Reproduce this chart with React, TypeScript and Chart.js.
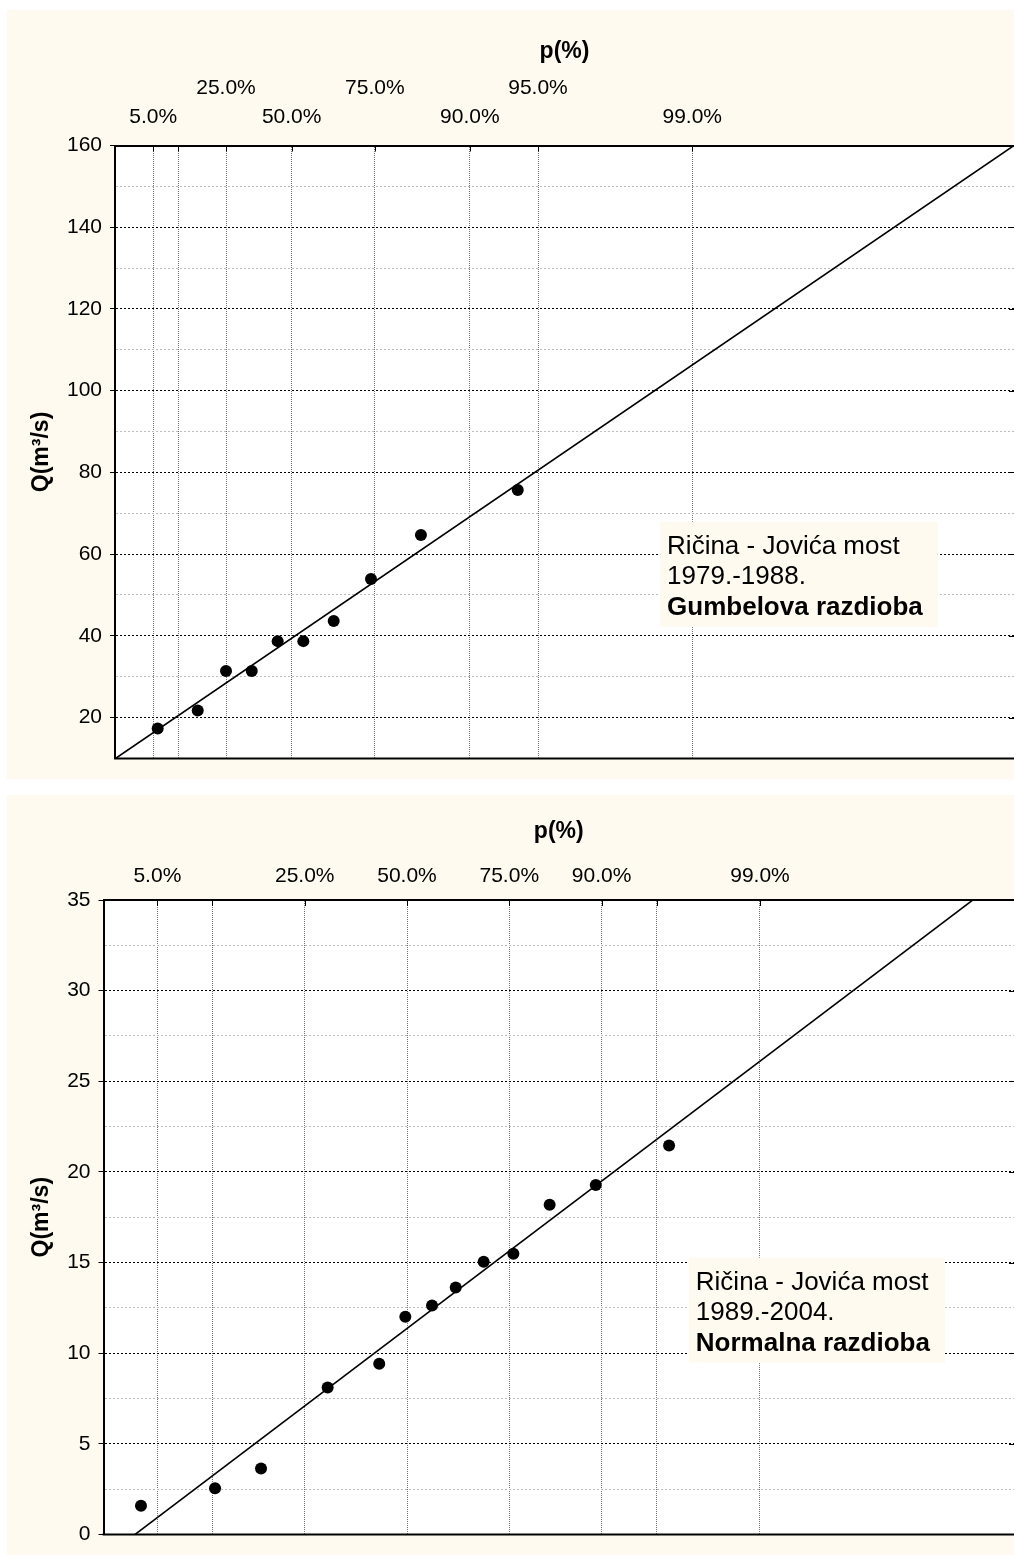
import React, { useEffect, useRef } from 'react';
import { Chart, registerables } from 'chart.js';

Chart.register(...registerables);

const FONT = '"Liberation Sans", Arial, Helvetica, sans-serif';
const CREAM = '#FEFAEF';

// ---------- Chart 1: Gumbel distribution (1979.-1988.) ----------
const gumbelX = [-1.049, -0.626, -0.327, -0.055, 0.219, 0.49, 0.811, 1.205, 1.733, 2.756];
const gumbelQ = [17.3, 21.7, 31.4, 31.4, 38.7, 38.7, 43.6, 53.9, 64.7, 75.7];
const gumbelLineX = [-1.5, 8.0];
const gumbelLineQ = [9.9, 160.0];
const gumbelTickPos = [-1.097, -0.834, -0.327, 0.367, 1.246, 2.25, 2.97, 4.6];
const gumbelTickLower = ['5.0%', '', '', '50.0%', '', '90.0%', '', '99.0%'];
const gumbelTickUpper = ['', '', '25.0%', '', '75.0%', '', '95.0%', ''];
const gumbelNote = ['Ričina - Jovića most', '1979.-1988.', 'Gumbelova razdioba'];

// ---------- Chart 2: Normal distribution (1989.-2004.) ----------
const normalX = [-1.753, -1.265, -0.962, -0.523, -0.183, -0.011, 0.165, 0.321, 0.505, 0.701, 0.94, 1.244, 1.727];
const normalQ = [1.58, 2.54, 3.63, 8.1, 9.42, 12.01, 12.63, 13.62, 15.04, 15.49, 18.19, 19.28, 21.45];
const normalLineX = [-2.0, 4.0];
const normalLineQ = [-1.32, 36.72];
const normalTickPos = [-1.645, -1.282, -0.674, 0, 0.674, 1.282, 1.645, 2.326];
const normalTickLabels = ['5.0%', '', '25.0%', '50.0%', '75.0%', '90.0%', '', '99.0%'];
const normalNote = ['Ričina - Jovića most', '1989.-2004.', 'Normalna razdioba'];

type Spec = {
  xs: number[];
  qs: number[];
  lineX: number[];
  lineQ: number[];
  tickPos: number[];
  lowerLabels: string[];
  upperLabels: string[] | null;
  xMin: number;
  xMax: number;
  yMin: number;
  yMax: number;
  yStep: number;
  yMajor: number;
  yAxisWidth: number;
  xHeight: number;
  xLabelPad: number;
  x2Height: number;
  x2LabelPad: number;
  titlePad: number;
  padBottom: number;
  note: string[];
  noteX: number;
  noteY: number;
};

const isMajor = (v: number, major: number) => {
  const r = Math.abs(v / major - Math.round(v / major));
  return r < 1e-6;
};

const framePlugin = {
  id: 'frame',
  beforeDraw(chart: any) {
    const { ctx, chartArea: a, width, height } = chart;
    ctx.save();
    ctx.fillStyle = CREAM;
    ctx.fillRect(0, 0, width, height);
    ctx.fillStyle = '#ffffff';
    ctx.fillRect(a.left, a.top, a.right - a.left, a.bottom - a.top);
    ctx.restore();
  },
  afterDatasetsDraw(chart: any, _args: any, opts: any) {
    const { ctx, scales } = chart;
    if (!opts || !opts.note) return;
    const x0 = scales.x.getPixelForValue(opts.noteX);
    const y0 = scales.y.getPixelForValue(opts.noteY);
    ctx.save();
    const fs = 26;
    let maxW = 0;
    opts.note.forEach((t: string, i: number) => {
      ctx.font = `${i === 2 ? 'bold ' : ''}${fs}px ${FONT}`;
      maxW = Math.max(maxW, ctx.measureText(t).width);
    });
    ctx.fillStyle = CREAM;
    ctx.fillRect(x0, y0, maxW + 22, 105);
    ctx.fillStyle = '#000';
    ctx.textBaseline = 'alphabetic';
    ctx.textAlign = 'left';
    const offs = [32, 62, 93];
    opts.note.forEach((t: string, i: number) => {
      ctx.font = `${i === 2 ? 'bold ' : ''}${fs}px ${FONT}`;
      ctx.fillText(t, x0 + 7, y0 + offs[i]);
    });
    ctx.restore();
  },
  afterDraw(chart: any, _args: any, opts: any) {
    const { ctx, chartArea: a, scales } = chart;
    ctx.save();
    ctx.strokeStyle = '#000';
    ctx.lineWidth = 2;
    ctx.beginPath();
    ctx.moveTo(a.left - 1, a.bottom);
    ctx.lineTo(a.right, a.bottom);
    ctx.stroke();
    ctx.lineWidth = 1;
    ctx.beginPath();
    scales.x.ticks.forEach((t: any) => {
      const px = Math.round(scales.x.getPixelForValue(t.value)) + 0.5;
      ctx.moveTo(px, a.top);
      ctx.lineTo(px, a.top + 6);
    });
    scales.y.ticks.forEach((t: any) => {
      if (!isMajor(t.value, opts.yMajor)) return;
      const py = Math.round(scales.y.getPixelForValue(t.value)) + 0.5;
      ctx.moveTo(a.right - 5, py);
      ctx.lineTo(a.right, py);
    });
    ctx.stroke();
    ctx.restore();
  },
};

function buildConfig(s: Spec): any {
  const tickFont = { family: FONT, size: 21 };
  const titleFont = { family: FONT, size: 23, weight: 'bold' };
  const scales: any = {
    x: {
      type: 'linear',
      axis: 'x',
      position: 'top',
      weight: 0,
      min: s.xMin,
      max: s.xMax,
      afterBuildTicks: (sc: any) => {
        sc.ticks = s.tickPos.map((v) => ({ value: v }));
      },
      afterFit: (sc: any) => {
        sc.height = s.xHeight;
      },
      ticks: {
        autoSkip: false,
        maxRotation: 0,
        minRotation: 0,
        padding: s.xLabelPad,
        color: '#000',
        font: tickFont,
        callback: (_v: any, i: number) => s.lowerLabels[i],
      },
      grid: { color: '#737373', lineWidth: 1, drawTicks: false, tickLength: 0 },
      border: { display: true, color: '#000', width: 2, dash: [1, 1] },
      title: s.upperLabels
        ? { display: false }
        : {
            display: true,
            text: 'p(%)',
            color: '#000',
            font: titleFont,
            padding: { top: s.titlePad, bottom: 0 },
          },
    },
    y: {
      type: 'linear',
      position: 'left',
      min: s.yMin,
      max: s.yMax,
      afterFit: (sc: any) => {
        sc.width = s.yAxisWidth;
      },
      ticks: {
        stepSize: s.yStep,
        autoSkip: false,
        padding: 8,
        color: '#000',
        font: tickFont,
        callback: (v: any) => (isMajor(Number(v), s.yMajor) ? String(v) : ''),
      },
      grid: {
        lineWidth: 1,
        color: (c: any) =>
          c.tick && isMajor(c.tick.value, s.yMajor) ? '#000000' : '#bdbdbd',
        tickColor: (c: any) =>
          c.tick && isMajor(c.tick.value, s.yMajor) ? '#000000' : 'rgba(0,0,0,0)',
        tickLength: 5,
        tickWidth: 1,
      },
      border: { display: true, color: '#000', width: 2, dash: [2, 2] },
      title: {
        display: true,
        text: 'Q(m³/s)',
        color: '#000',
        font: { family: FONT, size: 23, weight: 'bold' },
        padding: { top: 21, bottom: 0 },
      },
    },
  };
  if (s.upperLabels) {
    const upper = s.upperLabels;
    scales.x2 = {
      type: 'linear',
      axis: 'x',
      position: 'top',
      weight: 1,
      min: s.xMin,
      max: s.xMax,
      afterBuildTicks: (sc: any) => {
        sc.ticks = s.tickPos.map((v) => ({ value: v }));
      },
      afterFit: (sc: any) => {
        sc.height = s.x2Height;
      },
      ticks: {
        autoSkip: false,
        maxRotation: 0,
        minRotation: 0,
        padding: s.x2LabelPad,
        color: '#000',
        font: tickFont,
        callback: (_v: any, i: number) => upper[i],
      },
      grid: { display: false, drawTicks: false, tickLength: 0 },
      border: { display: false },
      title: {
        display: true,
        text: 'p(%)',
        color: '#000',
        font: titleFont,
        padding: { top: s.titlePad, bottom: 0 },
      },
    };
  }
  return {
    type: 'scatter',
    data: {
      datasets: [
        {
          data: s.xs.map((x, i) => ({ x, y: s.qs[i] })),
          xAxisID: 'x',
          yAxisID: 'y',
          pointRadius: 6,
          pointHoverRadius: 6,
          backgroundColor: '#000',
          borderColor: '#000',
          borderWidth: 0,
          showLine: false,
        },
        {
          data: s.lineX.map((x, i) => ({ x, y: s.lineQ[i] })),
          xAxisID: 'x',
          yAxisID: 'y',
          showLine: true,
          pointRadius: 0,
          borderColor: '#000',
          borderWidth: 1.6,
          fill: false,
        },
      ],
    },
    options: {
      animation: false,
      responsive: false,
      devicePixelRatio: 1,
      events: [],
      layout: { autoPadding: false, padding: { top: 0, left: 0, right: 0, bottom: s.padBottom } },
      plugins: {
        legend: { display: false },
        tooltip: { enabled: false },
        frame: { note: s.note, noteX: s.noteX, noteY: s.noteY, yMajor: s.yMajor },
      },
      scales,
    },
    plugins: [framePlugin],
  };
}

const spec1: Spec = {
  xs: gumbelX,
  qs: gumbelQ,
  lineX: gumbelLineX,
  lineQ: gumbelLineQ,
  tickPos: gumbelTickPos,
  lowerLabels: gumbelTickLower,
  upperLabels: gumbelTickUpper,
  xMin: -1.5,
  xMax: 8,
  yMin: 10,
  yMax: 160,
  yStep: 10,
  yMajor: 20,
  yAxisWidth: 108,
  xHeight: 45,
  xLabelPad: 16,
  x2Height: 90.5,
  x2LabelPad: 0,
  titlePad: 28,
  padBottom: 19,
  note: gumbelNote,
  noteX: 4.26,
  noteY: 67.9,
};

const spec2: Spec = {
  xs: normalX,
  qs: normalQ,
  lineX: normalLineX,
  lineQ: normalLineQ,
  tickPos: normalTickPos,
  lowerLabels: normalTickLabels,
  upperLabels: null,
  xMin: -2,
  xMax: 4,
  yMin: 0,
  yMax: 35,
  yStep: 2.5,
  yMajor: 5,
  yAxisWidth: 96.5,
  xHeight: 105,
  xLabelPad: 11.4,
  x2Height: 0,
  x2LabelPad: 0,
  titlePad: 23,
  padBottom: 11,
  note: normalNote,
  noteX: 1.857,
  noteY: 15.27,
};

export default function App() {
  const ref1 = useRef<HTMLCanvasElement | null>(null);
  const ref2 = useRef<HTMLCanvasElement | null>(null);

  useEffect(() => {
    const c1 = new Chart(ref1.current as HTMLCanvasElement, buildConfig(spec1));
    const c2 = new Chart(ref2.current as HTMLCanvasElement, buildConfig(spec2));
    return () => {
      c1.destroy();
      c2.destroy();
    };
  }, []);

  return (
    <div
      style={{
        position: 'absolute',
        left: 0,
        top: 0,
        width: 1014,
        height: 1555,
        background: '#ffffff',
        overflow: 'hidden',
      }}
    >
      <canvas
        ref={ref1}
        width={1007}
        height={769}
        style={{ position: 'absolute', left: 7, top: 10, width: 1007, height: 769 }}
      />
      <canvas
        ref={ref2}
        width={1007}
        height={760}
        style={{ position: 'absolute', left: 7, top: 795, width: 1007, height: 760 }}
      />
    </div>
  );
}
